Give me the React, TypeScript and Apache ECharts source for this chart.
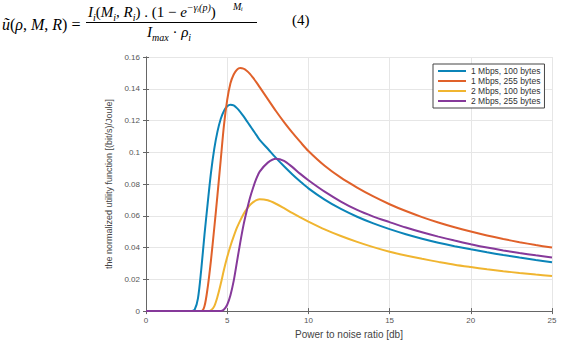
import React, { useEffect, useRef } from 'react';
import * as echarts from 'echarts';

// Power to noise ratio [db] sample positions
const xValues = [0, 2.5, 2.8, 3.0, 3.2, 3.4, 3.6, 3.8, 4.0, 4.2, 4.4, 4.6, 4.8, 5.0, 5.2, 5.4, 5.6, 5.8, 6.0, 6.2, 6.4, 6.6, 6.8, 7.0, 7.5, 8.0, 8.5, 9.0, 9.5, 10, 11, 12, 13, 14, 15, 16, 17, 18, 19, 20, 21, 22, 23, 24, 25];

const mbps1Bytes100 = [0, 0, 0, 0.001, 0.008, 0.026, 0.048, 0.068, 0.087, 0.102, 0.113, 0.121, 0.126, 0.129, 0.130, 0.1295, 0.1278, 0.1255, 0.1228, 0.1198, 0.1168, 0.1138, 0.1108, 0.1078, 0.1022, 0.0965, 0.0912, 0.0862, 0.0816, 0.0773, 0.0702, 0.0643, 0.0594, 0.0552, 0.0516, 0.0484, 0.0456, 0.0431, 0.0409, 0.0389, 0.0370, 0.0353, 0.0337, 0.0322, 0.0308];

const mbps1Bytes255 = [0, 0, 0, 0, 0, 0, 0.003, 0.015, 0.032, 0.052, 0.073, 0.095, 0.117, 0.133, 0.1435, 0.149, 0.152, 0.153, 0.1527, 0.1514, 0.1494, 0.1468, 0.1440, 0.1410, 0.1335, 0.1260, 0.1190, 0.1125, 0.1065, 0.1008, 0.0915, 0.0840, 0.0778, 0.0722, 0.0673, 0.0630, 0.0592, 0.0558, 0.0528, 0.0501, 0.0476, 0.0454, 0.0434, 0.0416, 0.0400];

const mbps2Bytes100 = [0, 0, 0, 0, 0, 0, 0, 0, 0.0005, 0.003, 0.009, 0.017, 0.026, 0.034, 0.041, 0.047, 0.0525, 0.057, 0.061, 0.0642, 0.0667, 0.0686, 0.0699, 0.0705, 0.0698, 0.0676, 0.0648, 0.0618, 0.0590, 0.0564, 0.0515, 0.0473, 0.0436, 0.0403, 0.0374, 0.0350, 0.0329, 0.0310, 0.0292, 0.0277, 0.0263, 0.0251, 0.0240, 0.0230, 0.0221];

const mbps2Bytes255 = [0, 0, 0, 0, 0, 0, 0, 0, 0, 0, 0, 0, 0.001, 0.004, 0.010, 0.019, 0.031, 0.043, 0.054, 0.063, 0.0712, 0.0778, 0.0835, 0.0878, 0.0935, 0.0960, 0.0946, 0.0908, 0.0864, 0.0824, 0.0752, 0.0690, 0.0637, 0.0595, 0.0560, 0.0526, 0.0496, 0.0469, 0.0444, 0.0421, 0.0400, 0.0382, 0.0366, 0.0351, 0.0337];

const seriesNames = ['1 Mbps, 100 bytes', '1 Mbps, 255 bytes', '2 Mbps, 100 bytes', '2 Mbps, 255 bytes'];
const seriesValues = [mbps1Bytes100, mbps1Bytes255, mbps2Bytes100, mbps2Bytes255];
const seriesColors = ['#0b84b8', '#e0612a', '#f0b530', '#86399a'];

const xAxisName = 'Power to noise ratio [db]';
const yAxisName = 'the normalized utility function [(bit/s)/Joule]';

const sans = '"Liberation Sans", Arial, sans-serif';
const serif = '"Liberation Serif", "DejaVu Serif", serif';

export default function App() {
  const ref = useRef<HTMLDivElement>(null);

  useEffect(() => {
    if (!ref.current) return;
    const chart = echarts.init(ref.current, undefined, { renderer: 'svg' });

    const eqRich: any = {
      i: { fontStyle: 'italic', fontSize: 15, fontFamily: serif, lineHeight: 20, fill: '#000' },
      n: { fontSize: 15, fontFamily: serif, lineHeight: 20, fill: '#000' },
      I: { fontStyle: 'italic', fontSize: 16, fontFamily: serif, lineHeight: 20, fill: '#000' },
      N: { fontSize: 16, fontFamily: serif, lineHeight: 20, fill: '#000' },
      sb: { fontStyle: 'italic', fontSize: 10, fontFamily: serif, verticalAlign: 'bottom', fill: '#000' },
      sp: { fontStyle: 'italic', fontSize: 10, fontFamily: serif, verticalAlign: 'top', fill: '#000' },
    };

    const axisColor = '#666';
    const labelStyle = { color: '#555', fontSize: 8, fontFamily: sans };

    chart.setOption({
      animation: false,
      backgroundColor: '#fff',
      graphic: [
        {
          type: 'text', x: 2, y: 24,
          style: { text: '{I|ũ}{N|(}{I|ρ}{N|, }{I|M}{N|, }{I|R}{N|) =}', rich: eqRich, verticalAlign: 'middle', align: 'left' },
        },
        {
          type: 'text', x: 88, y: 12,
          style: { text: '{i|I}{sb|i}{n|(}{i|M}{sb|i}{n|, }{i|R}{sb|i}{n|) . (1 − }{i|e}{sp|−γᵢ(p)}{n|)}', rich: eqRich, verticalAlign: 'middle', align: 'left' },
        },
        {
          type: 'text', x: 233, y: 6,
          style: { text: 'Mᵢ', fontStyle: 'italic', fontSize: 10, fontFamily: serif, fill: '#000', verticalAlign: 'middle', align: 'left' },
        },
        {
          type: 'line',
          shape: { x1: 86, y1: 22.5, x2: 257, y2: 22.5 },
          style: { stroke: '#000', lineWidth: 1 },
        },
        {
          type: 'text', x: 147, y: 32,
          style: { text: '{i|I}{sb|max}{n| · }{i|ρ}{sb|i}', rich: eqRich, verticalAlign: 'middle', align: 'left' },
        },
        {
          type: 'text', x: 292, y: 20,
          style: { text: '(4)', fontSize: 15, fontFamily: serif, fill: '#000', verticalAlign: 'middle', align: 'left' },
        },
      ],
      grid: { left: 146, right: 13, top: 57, bottom: 26, containLabel: false },
      legend: {
        data: seriesNames,
        orient: 'vertical',
        left: 433,
        top: 64,
        icon: 'rect',
        itemWidth: 28,
        itemHeight: 2,
        itemGap: 0,
        padding: [2, 4, 2, 5],
        borderColor: '#444',
        borderWidth: 1,
        backgroundColor: '#fff',
        textStyle: { fontSize: 8.5, color: '#333', lineHeight: 10, fontFamily: sans },
      },
      xAxis: [
        {
          type: 'value', position: 'bottom', min: 0, max: 25, interval: 5,
          name: xAxisName, nameLocation: 'middle', nameGap: 16,
          nameTextStyle: { fontSize: 10, color: '#444', fontFamily: sans },
          axisLine: { show: true, lineStyle: { color: axisColor, width: 1 } },
          axisTick: { show: true, inside: true, length: 3, lineStyle: { color: axisColor } },
          axisLabel: { ...labelStyle, margin: 5 },
          splitLine: { show: true, lineStyle: { color: '#e6e6e6', width: 1 } },
        },
        {
          type: 'value', position: 'top', min: 0, max: 25, interval: 5,
          axisLine: { show: true, lineStyle: { color: axisColor, width: 1 } },
          axisTick: { show: true, inside: true, length: 3, lineStyle: { color: axisColor } },
          axisLabel: { show: false },
          splitLine: { show: false },
        },
      ],
      yAxis: [
        {
          type: 'value', position: 'left', min: 0, max: 0.16, interval: 0.02,
          name: yAxisName, nameLocation: 'middle', nameGap: 21,
          nameTextStyle: { fontSize: 9, color: '#444', fontFamily: sans },
          axisLine: { show: true, lineStyle: { color: axisColor, width: 1 } },
          axisTick: { show: true, inside: true, length: 3, lineStyle: { color: axisColor } },
          axisLabel: { ...labelStyle, margin: 6 },
          splitLine: { show: true, lineStyle: { color: '#e6e6e6', width: 1 } },
        },
        {
          type: 'value', position: 'right', min: 0, max: 0.16, interval: 0.02,
          axisLine: { show: true, lineStyle: { color: axisColor, width: 1 } },
          axisTick: { show: true, inside: true, length: 3, lineStyle: { color: axisColor } },
          axisLabel: { show: false },
          splitLine: { show: false },
        },
      ],
      series: seriesNames.map((name, k) => ({
        name,
        type: 'line',
        xAxisIndex: 0,
        yAxisIndex: 0,
        data: xValues.map((x, i) => [x, seriesValues[k][i]]),
        showSymbol: false,
        smooth: 0.3,
        clip: true,
        color: seriesColors[k],
        lineStyle: { width: 2, color: seriesColors[k] },
      })),
    });

    return () => chart.dispose();
  }, []);

  return (
    <div
      ref={ref}
      style={{ position: 'absolute', left: 0, top: 0, width: 565, height: 344, background: '#fff' }}
    />
  );
}
